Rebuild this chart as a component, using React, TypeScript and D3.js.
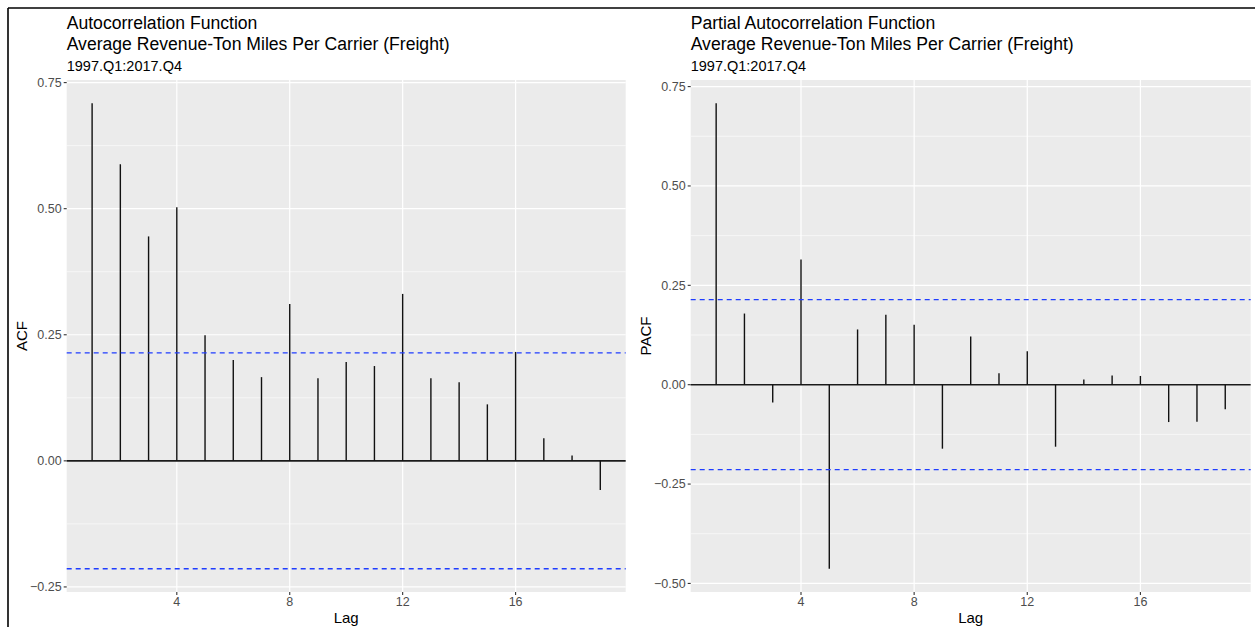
import React, { useRef, useEffect } from "react";
import * as d3 from "d3";

// values (lags 1..19, quarterly, n = 84)
const lags = [1, 2, 3, 4, 5, 6, 7, 8, 9, 10, 11, 12, 13, 14, 15, 16, 17, 18, 19];
const acfValues = [0.709, 0.588, 0.445, 0.503, 0.249, 0.2, 0.166, 0.311, 0.164, 0.196, 0.188, 0.331, 0.164, 0.156, 0.112, 0.216, 0.045, 0.0105, -0.058];
const pacfValues = [0.708, 0.179, -0.045, 0.315, -0.463, 0.139, 0.176, 0.151, -0.161, 0.121, 0.029, 0.084, -0.156, 0.013, 0.023, 0.022, -0.094, -0.093, -0.062];
const ciBound = 0.2139;

const xTicks = [4, 8, 12, 16];
const acfTicks = [-0.25, 0, 0.25, 0.5, 0.75];
const pacfTicks = [-0.5, -0.25, 0, 0.25, 0.5, 0.75];

const seriesTitle = "Average Revenue-Ton Miles Per Carrier (Freight)";
const subtitle = "1997.Q1:2017.Q4";

const W = 1255;
const H = 627;

const FONT = "'Liberation Sans', Arial, Helvetica, sans-serif";

const App = () => {
  const svgRef = useRef(null);

  useEffect(() => {
    const svg = d3.select(svgRef.current).attr("width", W).attr("height", H);
    svg.selectAll("*").remove();

    svg.append("rect").attr("width", W).attr("height", H).attr("fill", "white");

    // frame of the screenshot (top + left edge)
    svg.append("line").attr("x1", 8).attr("x2", W).attr("y1", 8).attr("y2", 8)
      .attr("stroke", "black").attr("stroke-width", 1.6);
    svg.append("line").attr("x1", 8).attr("x2", 8).attr("y1", 8).attr("y2", H)
      .attr("stroke", "black").attr("stroke-width", 1.6);

    const drawPanel = (opts) => {
      const { left, right, top, bottom, values, ticks, title, yLabel, yLabelX } = opts;

      // ggplot style 5% expansion
      const lo = Math.min(d3.min(values), -ciBound);
      const hi = Math.max(d3.max(values), ciBound);
      const pad = (hi - lo) * 0.05;
      const yScale = d3.scaleLinear().domain([lo - pad, hi + pad]).range([bottom, top]);
      const xPad = (d3.max(lags) - d3.min(lags)) * 0.05;
      const xScale = d3.scaleLinear().domain([d3.min(lags) - xPad, d3.max(lags) + xPad]).range([left, right]);

      const g = svg.append("g");

      // panel background
      g.append("rect")
        .attr("x", left).attr("y", top)
        .attr("width", right - left).attr("height", bottom - top)
        .attr("fill", "#EBEBEB");

      // minor y grid
      const step = ticks[1] - ticks[0];
      const minor = [];
      for (let i = 0; i <= ticks.length; i++) {
        const v = ticks[0] - step / 2 + i * step;
        if (v >= yScale.domain()[0] && v <= yScale.domain()[1]) minor.push(v);
      }
      g.selectAll(".minor").data(minor).join("line")
        .attr("x1", left).attr("x2", right)
        .attr("y1", (d) => yScale(d)).attr("y2", (d) => yScale(d))
        .attr("stroke", "white").attr("stroke-width", 0.6);

      // major grid
      g.selectAll(".majy").data(ticks).join("line")
        .attr("x1", left).attr("x2", right)
        .attr("y1", (d) => yScale(d)).attr("y2", (d) => yScale(d))
        .attr("stroke", "white").attr("stroke-width", 1.2);
      g.selectAll(".majx").data(xTicks).join("line")
        .attr("x1", (d) => xScale(d)).attr("x2", (d) => xScale(d))
        .attr("y1", top).attr("y2", bottom)
        .attr("stroke", "white").attr("stroke-width", 1.2);

      // zero line
      g.append("line")
        .attr("x1", left).attr("x2", right)
        .attr("y1", yScale(0)).attr("y2", yScale(0))
        .attr("stroke", "#1a1a1a").attr("stroke-width", 1.6);

      // spikes
      g.selectAll(".spike").data(values).join("line")
        .attr("x1", (d, i) => xScale(lags[i])).attr("x2", (d, i) => xScale(lags[i]))
        .attr("y1", yScale(0)).attr("y2", (d) => yScale(d))
        .attr("stroke", "#111").attr("stroke-width", 1.4);

      // confidence bounds
      g.selectAll(".ci").data([ciBound, -ciBound]).join("line")
        .attr("x1", left).attr("x2", right)
        .attr("y1", (d) => yScale(d)).attr("y2", (d) => yScale(d))
        .attr("stroke", "#1f3dff").attr("stroke-width", 1.3)
        .attr("stroke-dasharray", "5,4");

      // y axis
      const yAxis = g.append("g");
      yAxis.selectAll("line").data(ticks).join("line")
        .attr("x1", left - 3).attr("x2", left)
        .attr("y1", (d) => yScale(d)).attr("y2", (d) => yScale(d))
        .attr("stroke", "#333").attr("stroke-width", 1.1);
      yAxis.selectAll("text").data(ticks).join("text")
        .attr("x", left - 5).attr("y", (d) => yScale(d))
        .attr("dy", "0.35em")
        .attr("text-anchor", "end")
        .attr("font-family", FONT).attr("font-size", 12.5).attr("fill", "#4D4D4D")
        .text((d) => d3.format(".2f")(d));

      // x axis
      const xAxis = g.append("g");
      xAxis.selectAll("line").data(xTicks).join("line")
        .attr("x1", (d) => xScale(d)).attr("x2", (d) => xScale(d))
        .attr("y1", bottom).attr("y2", bottom + 3)
        .attr("stroke", "#333").attr("stroke-width", 1.1);
      xAxis.selectAll("text").data(xTicks).join("text")
        .attr("x", (d) => xScale(d)).attr("y", bottom + 13.5)
        .attr("text-anchor", "middle")
        .attr("font-family", FONT).attr("font-size", 12.5).attr("fill", "#4D4D4D")
        .text((d) => d);

      // axis titles
      g.append("text")
        .attr("x", (left + right) / 2).attr("y", bottom + 31)
        .attr("text-anchor", "middle")
        .attr("font-family", FONT).attr("font-size", 15).attr("fill", "black")
        .text("Lag");
      g.append("text")
        .attr("transform", `translate(${yLabelX}, ${(top + bottom) / 2}) rotate(-90)`)
        .attr("text-anchor", "middle")
        .attr("font-family", FONT).attr("font-size", 15).attr("fill", "black")
        .text(yLabel);

      // titles
      const titles = g.append("g").attr("font-family", FONT).attr("fill", "black");
      titles.append("text").attr("x", left).attr("y", 28.5).attr("font-size", 17.6).text(title);
      titles.append("text").attr("x", left).attr("y", 49.5).attr("font-size", 17.6).text(seriesTitle);
      titles.append("text").attr("x", left).attr("y", 70.5).attr("font-size", 14.5).text(subtitle);
    };

    drawPanel({
      left: 66.7, right: 625.7, top: 80, bottom: 592,
      values: acfValues, ticks: acfTicks,
      title: "Autocorrelation Function", yLabel: "ACF", yLabelX: 27,
    });
    drawPanel({
      left: 690.7, right: 1250.7, top: 80, bottom: 592,
      values: pacfValues, ticks: pacfTicks,
      title: "Partial Autocorrelation Function", yLabel: "PACF", yLabelX: 651,
    });
  }, []);

  return (
    <div style={{ position: "absolute", left: 0, top: 0 }}>
      <svg ref={svgRef} style={{ display: "block" }} />
    </div>
  );
};

export default App;
